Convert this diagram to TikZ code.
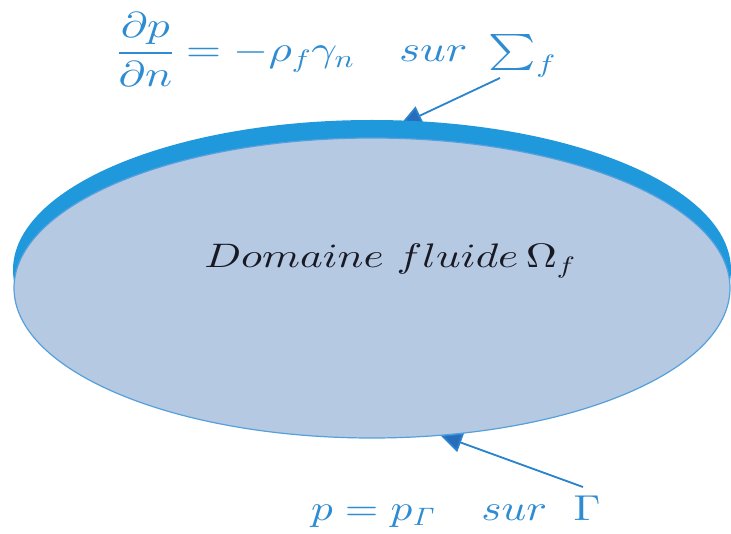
\documentclass[tikz,border=0pt]{standalone}
\usepackage{amsmath}
\DeclareFontShape{OML}{cmm}{m}{it}{<->cmmi10}{}
\DeclareFontShape{OMS}{cmsy}{m}{n}{<->cmsy10}{}
\DeclareFontShape{OMX}{cmex}{m}{n}{<->cmex10}{}
\DeclareFontShape{OT1}{cmr}{m}{n}{<->cmr10}{}
\DeclareFontShape{OT1}{cmr}{m}{it}{<->cmti10}{}
\usetikzlibrary{arrows.meta}
\definecolor{fillL}{RGB}{181,201,226}
\definecolor{bandD}{RGB}{32,152,220}
\definecolor{rimC}{RGB}{85,160,220}
\definecolor{txtB}{RGB}{45,140,210}
\definecolor{arrC}{RGB}{42,132,205}
\definecolor{arrD}{RGB}{40,108,188}
\definecolor{txtK}{RGB}{25,25,35}
\tikzset{
  pointer/.style={draw=arrC, line width=1.8pt, -{Triangle[length=22pt,width=20pt,fill=arrD]}},
  bluelabel/.style={inner sep=0pt, text=txtB, font=\fontsize{36}{42}\selectfont},
  darklabel/.style={inner sep=0pt, text=txtK, font=\fontsize{34}{40}\selectfont}
}
\begin{document}
\begin{tikzpicture}[x=1pt,y=-1pt]
\useasboundingbox (0,0) rectangle (731,534);
\fill[white] (0,0) rectangle (731,534);
% text labels
\node[bluelabel, anchor=base west] (top) at (117,62)
  {\scalebox{1.25}[1]{$\displaystyle\frac{\partial p}{\partial n} = -\rho_f\gamma_n\hspace{36pt} sur\hspace{11pt}\textstyle\sum\nolimits_f$}};
\node[bluelabel, anchor=base west] (bot) at (311,520)
  {\scalebox{1.2}[1]{$p = p_{\mathit{\Gamma}}\hspace{38pt} sur\hspace{22pt}\Gamma$}};
% arrow end points
\coordinate (ts) at (500,78);
\coordinate (tt) at (400,125);
\coordinate (bs) at (583,487);
\coordinate (bt) at (440,435);
\draw[pointer] (ts) -- (tt);
\draw[pointer] (bs) -- (bt);
% domain
\fill[bandD] (372,270) ellipse [x radius=359, y radius=150];
\draw[rimC, line width=1.2pt, fill=fillL] (372,288) ellipse [x radius=358, y radius=150];
\node[darklabel, anchor=base] (dom) at (390,268)
  {\scalebox{1.27}[1]{$Domaine\ fluide\,\Omega_f$}};
\end{tikzpicture}
\end{document}
